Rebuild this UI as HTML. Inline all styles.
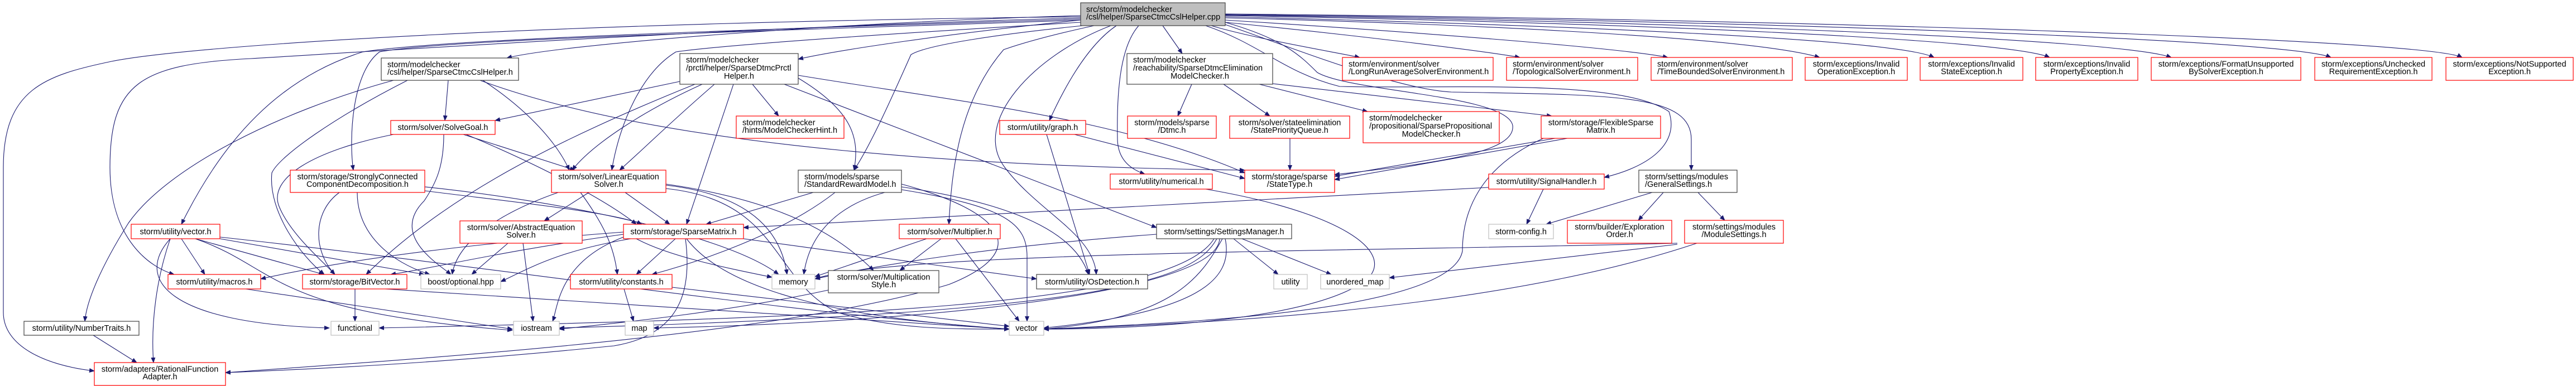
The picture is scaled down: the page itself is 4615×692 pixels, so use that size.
<!DOCTYPE html>
<html><head><meta charset="utf-8"><style>
html,body{margin:0;padding:0;background:#fff;}
svg{display:block}
text{font-family:"Liberation Sans",sans-serif;font-size:14.5px;fill:#000}
.e{fill:none;stroke:#191970;stroke-width:1.1;marker-end:url(#a)}
.r{fill:#fff;stroke:#ff0000;stroke-width:1.2}
.k{fill:#fff;stroke:#404040;stroke-width:1.2}
.g{fill:#fff;stroke:#bfbfbf;stroke-width:1.2}
.t{fill:#bfbfbf;stroke:#404040;stroke-width:1.2}
.m{text-anchor:middle}
</style></head><body>
<svg width="4615" height="692" viewBox="0 0 4615 692" xmlns="http://www.w3.org/2000/svg">
<defs><marker id="a" markerWidth="10" markerHeight="8" refX="9" refY="4" orient="auto" markerUnits="userSpaceOnUse"><path d="M0,0 L10,4 L0,8 z" fill="#191970"/></marker></defs>
<g>
<path class="e" d="M1936 28 C1500 40,1000 80,908 104"/>
<path class="e" d="M1936 36 C1700 60,1500 90,1430 106"/>
<path class="e" d="M2083 46 L2118 96"/>
<path class="e" d="M2170 46 C2250 70,2400 95,2436 103"/>
<path class="e" d="M2195 40 C2400 60,2650 90,2723 103"/>
<path class="e" d="M2195 36 C2500 55,2900 85,2988 103"/>
<path class="e" d="M2195 32 C2700 45,3150 70,3260 103"/>
<path class="e" d="M2195 30 C2800 45,3400 70,3465 103"/>
<path class="e" d="M2195 28 C2900 40,3600 70,3672 103"/>
<path class="e" d="M2195 27 C3000 38,3800 70,3890 103"/>
<path class="e" d="M2195 26 C3100 36,4100 70,4176 103"/>
<path class="e" d="M2195 25 C3200 34,4350 70,4411 103"/>
<path class="e" d="M1936 30 C1000 40,350 80,200 110 C80 135,6 160,6 300 L6 560 C6 620,80 655,169 665"/>
<path class="e" d="M1936 32 C1300 50,700 90,450 105 C250 115,197 150,197 300 C197 430,270 480,312 492"/>
<path class="e" d="M1936 34 C1300 55,800 70,650 93 C500 140,400 250,325 402"/>
<path class="e" d="M1936 36 C1400 55,800 70,680 93 C630 130,625 250,633 305"/>
<path class="e" d="M1936 40 C1600 60,1300 80,1211 93 C1150 130,1110 220,1096 305"/>
<path class="e" d="M1940 46 C1800 60,1660 80,1632 98 C1600 170,1560 260,1530 305"/>
<path class="e" d="M1960 46 C1850 70,1810 85,1798 89 C1720 180,1705 300,1700 402"/>
<path class="e" d="M2000 46 C1950 80,1910 150,1880 216"/>
<path class="e" d="M1990 46 C1850 100,1740 220,1800 300 C1860 380,1960 420,1964 492"/>
<path class="e" d="M2040 46 C2010 80,2000 150,2002 250 C2003 290,2030 305,2051 312"/>
<path class="e" d="M2195 40 C2300 70,2330 100,2360 130 C2420 165,2700 170,2710 225 C2715 270,2600 290,2391 313"/>
<path class="e" d="M2160 46 C2260 80,2300 130,2400 155 C2600 160,2900 140,2990 200 C3010 260,2950 300,2874 318"/>
<path class="e" d="M2195 44 C2300 80,2500 160,2600 165 C2900 170,3030 170,3030 250 L3030 305"/>
<path class="e" d="M803 144 L797 216"/>
<path class="e" d="M705 144 C500 200,300 300,230 400 C180 480,155 540,152 576"/>
<path class="e" d="M730 144 C600 210,500 280,487 310 C480 380,540 460,581 492"/>
<path class="e" d="M865 144 C950 200,1000 260,1020 305"/>
<path class="e" d="M860 144 C1200 270,1800 300,2230 305"/>
<path class="e" d="M705 241 C560 270,480 320,500 370 C520 420,580 470,600 492"/>
<path class="e" d="M795 241 C795 300,780 330,760 360 C700 420,780 470,808 492"/>
<path class="e" d="M830 241 L1030 305"/>
<path class="e" d="M835 241 C1000 310,1100 370,1140 402"/>
<path class="e" d="M608 345 C560 380,560 450,600 492"/>
<path class="e" d="M640 345 C640 420,700 470,770 492"/>
<path class="e" d="M761 335 C1000 360,1300 420,1395 492"/>
<path class="e" d="M761 342 C900 360,1100 380,1150 402"/>
<path class="e" d="M910 436 L845 492"/>
<path class="e" d="M937 436 L955 576"/>
<path class="e" d="M1055 345 L975 396"/>
<path class="e" d="M1120 345 L1200 402"/>
<path class="e" d="M1040 345 C1080 400,1100 440,1106 492"/>
<path class="e" d="M1193 332 C1350 350,1400 420,1410 492"/>
<path class="e" d="M1193 330 C1400 360,1500 420,1565 485"/>
<path class="e" d="M1193 338 C1400 360,1380 500,1500 560 C1600 590,1700 590,1808 590"/>
<path class="e" d="M1000 345 C900 380,820 430,810 492"/>
<path class="e" d="M1348 151 L1395 208"/>
<path class="e" d="M1280 151 C1200 220,1150 270,1110 305"/>
<path class="e" d="M1258 151 C1150 200,1060 260,1025 305"/>
<path class="e" d="M1314 151 L1230 402"/>
<path class="e" d="M1430 140 C1530 200,1540 250,1530 305"/>
<path class="e" d="M1218 146 L887 216"/>
<path class="e" d="M1245 151 C1000 250,800 350,656 492"/>
<path class="e" d="M1405 151 L2072 408"/>
<path class="e" d="M1430 135 C1700 180,2000 210,2230 310"/>
<path class="e" d="M1457 345 L1265 402"/>
<path class="e" d="M1496 345 C1400 420,1250 470,1168 492"/>
<path class="e" d="M1615 335 C1850 370,1930 430,1950 492"/>
<path class="e" d="M1615 340 C1800 370,1840 400,1840 460 L1840 576"/>
<path class="e" d="M1615 330 C1800 380,1850 450,1700 510 C1400 600,800 640,404 668"/>
<path class="e" d="M1615 338 C1500 360,1450 420,1440 492"/>
<path class="e" d="M1210 428 L1140 492"/>
<path class="e" d="M1117 425 C1000 470,1000 550,990 576"/>
<path class="e" d="M1130 428 C1000 450,950 480,897 505"/>
<path class="e" d="M1117 420 C900 450,780 480,700 492"/>
<path class="e" d="M1117 416 C800 440,600 470,467 500"/>
<path class="e" d="M1230 428 C1300 520,1500 570,1808 590"/>
<path class="e" d="M1332 428 L1857 500"/>
<path class="e" d="M1228 428 C1240 520,1220 600,1100 620 C800 650,600 660,404 668"/>
<path class="e" d="M1140 428 C1200 460,1300 480,1383 497"/>
<path class="e" d="M1660 428 L1460 496"/>
<path class="e" d="M1686 428 L1612 485"/>
<path class="e" d="M1712 428 L1826 576"/>
<path class="e" d="M1118 518 L1135 576"/>
<path class="e" d="M1204 515 L1808 585"/>
<path class="e" d="M1484 520 C1300 560,1100 580,1002 590"/>
<path class="e" d="M325 428 L367 492"/>
<path class="e" d="M350 428 L580 492"/>
<path class="e" d="M394 428 L760 492"/>
<path class="e" d="M305 428 C280 500,270 580,275 650"/>
<path class="e" d="M305 428 C240 500,300 580,590 588"/>
<path class="e" d="M350 428 C500 480,480 560,918 592"/>
<path class="e" d="M394 425 C900 480,1400 560,1808 590"/>
<path class="e" d="M440 518 L918 590"/>
<path class="e" d="M636 518 L636 576"/>
<path class="e" d="M690 518 L1808 590"/>
<path class="e" d="M167 601 L245 650"/>
<path class="e" d="M1875 241 L1952 492"/>
<path class="e" d="M1925 241 L2230 320"/>
<path class="e" d="M2160 339 C2400 380,2500 450,2450 500 C2350 580,2000 590,1870 590"/>
<path class="e" d="M2311 248 L2311 305"/>
<path class="e" d="M2135 151 L2110 208"/>
<path class="e" d="M2192 151 L2275 208"/>
<path class="e" d="M2256 151 L2450 200"/>
<path class="e" d="M2280 150 L2780 208"/>
<path class="e" d="M2786 248 L2391 316"/>
<path class="e" d="M2808 248 L2391 322"/>
<path class="e" d="M2765 248 C2650 300,2620 380,2620 450 C2600 560,2100 580,1870 590"/>
<path class="e" d="M2765 339 L2735 402"/>
<path class="e" d="M2667 336 L1332 408"/>
<path class="e" d="M2960 345 L2770 402"/>
<path class="e" d="M2980 345 L2935 395"/>
<path class="e" d="M3042 345 L3090 395"/>
<path class="e" d="M3040 436 C2700 550,2200 580,1870 590"/>
<path class="e" d="M3005 438 L2489 498"/>
<path class="e" d="M3005 436 C2500 450,1600 450,1460 500"/>
<path class="e" d="M2210 428 L2290 492"/>
<path class="e" d="M2225 428 L2385 492"/>
<path class="e" d="M2190 428 C2150 500,2100 570,1870 590"/>
<path class="e" d="M2195 428 C2210 500,2150 560,1870 588"/>
<path class="e" d="M2180 428 C2140 500,2000 560,1002 588"/>
<path class="e" d="M2072 420 C1800 440,1600 470,1460 500"/>
<path class="e" d="M2175 428 C2100 550,1500 570,679 588"/>
<path class="e" d="M2185 428 C2180 530,1600 580,1171 588"/>
</g>
<g>
<rect class="t" x="1936" y="5" width="259" height="41"/>
<text x="1946" y="21.5">src/storm/modelchecker</text><text x="1946" y="35">/csl/helper/SparseCtmcCslHelper.cpp</text>

<rect class="k" x="683" y="104" width="246" height="40"/>
<text x="694" y="120.5">storm/modelchecker</text><text x="694" y="134">/csl/helper/SparseCtmcCslHelper.h</text>

<rect class="r" x="700" y="216" width="187" height="25"/><text class="m" x="793.5" y="233">storm/solver/SolveGoal.h</text>

<rect class="r" x="520" y="305" width="241" height="40"/>
<text class="m" x="640.5" y="321.5">storm/storage/StronglyConnected</text><text class="m" x="640.5" y="335">ComponentDecomposition.h</text>

<rect class="r" x="824" y="396" width="219" height="40"/>
<text class="m" x="933.5" y="412.5">storm/solver/AbstractEquation</text><text class="m" x="933.5" y="426">Solver.h</text>

<rect class="r" x="235" y="402" width="159" height="26"/><text class="m" x="314.5" y="420">storm/utility/vector.h</text>
<rect class="r" x="301" y="492" width="166" height="26"/><text class="m" x="384" y="510">storm/utility/macros.h</text>
<rect class="r" x="542" y="492" width="187" height="26"/><text class="m" x="635.5" y="510">storm/storage/BitVector.h</text>
<rect class="g" x="754" y="492" width="143" height="26"/><text class="m" x="825.5" y="510">boost/optional.hpp</text>
<rect class="k" x="43" y="576" width="206" height="25"/><text class="m" x="146" y="593">storm/utility/NumberTraits.h</text>
<rect class="g" x="593" y="576" width="86" height="25"/><text class="m" x="636" y="593">functional</text>
<rect class="g" x="920" y="576" width="82" height="25"/><text class="m" x="961" y="593">iostream</text>

<rect class="r" x="169" y="650" width="235" height="41"/>
<text class="m" x="286.5" y="666.5">storm/adapters/RationalFunction</text><text class="m" x="286.5" y="680">Adapter.h</text>

<rect class="k" x="1218" y="96" width="212" height="55"/>
<text x="1229" y="112">storm/modelchecker</text><text x="1229" y="126.5">/prctl/helper/SparseDtmcPrctl</text><text class="m" x="1324" y="141">Helper.h</text>

<rect class="r" x="1319" y="208" width="193" height="40"/>
<text x="1330" y="224.5">storm/modelchecker</text><text x="1330" y="238">/hints/ModelCheckerHint.h</text>

<rect class="r" x="1791" y="216" width="154" height="25"/><text class="m" x="1868" y="233">storm/utility/graph.h</text>

<rect class="r" x="988" y="305" width="205" height="40"/>
<text class="m" x="1090.5" y="321.5">storm/solver/LinearEquation</text><text class="m" x="1090.5" y="335">Solver.h</text>

<rect class="k" x="1430" y="305" width="185" height="40"/>
<text x="1441" y="321.5">storm/models/sparse</text><text x="1441" y="335">/StandardRewardModel.h</text>

<rect class="r" x="1117" y="402" width="215" height="26"/><text class="m" x="1224.5" y="420">storm/storage/SparseMatrix.h</text>
<rect class="r" x="1611" y="402" width="181" height="26"/><text class="m" x="1701.5" y="420">storm/solver/Multiplier.h</text>
<rect class="r" x="1022" y="492" width="182" height="26"/><text class="m" x="1113" y="510">storm/utility/constants.h</text>
<rect class="g" x="1383" y="492" width="77" height="26"/><text class="m" x="1421.5" y="510">memory</text>

<rect class="k" x="1484" y="485" width="198" height="40"/>
<text class="m" x="1583" y="501.5">storm/solver/Multiplication</text><text class="m" x="1583" y="515">Style.h</text>

<rect class="k" x="1857" y="492" width="199" height="26"/><text class="m" x="1956.5" y="510">storm/utility/OsDetection.h</text>
<rect class="g" x="1120" y="576" width="51" height="25"/><text class="m" x="1145.5" y="593">map</text>
<rect class="g" x="1808" y="576" width="62" height="25"/><text class="m" x="1839" y="593">vector</text>

<rect class="k" x="2019" y="96" width="261" height="55"/>
<text x="2030" y="112">storm/modelchecker</text><text x="2030" y="126.5">/reachability/SparseDtmcElimination</text><text class="m" x="2149.5" y="141">ModelChecker.h</text>

<rect class="r" x="2405" y="103" width="270" height="41"/>
<text x="2416" y="119.5">storm/environment/solver</text><text x="2416" y="133">/LongRunAverageSolverEnvironment.h</text>
<rect class="r" x="2699" y="103" width="235" height="41"/>
<text x="2710" y="119.5">storm/environment/solver</text><text x="2710" y="133">/TopologicalSolverEnvironment.h</text>
<rect class="r" x="2958" y="103" width="253" height="41"/>
<text x="2969" y="119.5">storm/environment/solver</text><text x="2969" y="133">/TimeBoundedSolverEnvironment.h</text>

<rect class="r" x="3234" y="103" width="183" height="41"/>
<text class="m" x="3325.5" y="119.5">storm/exceptions/Invalid</text><text class="m" x="3325.5" y="133">OperationException.h</text>
<rect class="r" x="3440" y="103" width="184" height="41"/>
<text class="m" x="3532" y="119.5">storm/exceptions/Invalid</text><text class="m" x="3532" y="133">StateException.h</text>
<rect class="r" x="3647" y="103" width="183" height="41"/>
<text class="m" x="3738.5" y="119.5">storm/exceptions/Invalid</text><text class="m" x="3738.5" y="133">PropertyException.h</text>
<rect class="r" x="3854" y="103" width="268" height="41"/>
<text class="m" x="3988" y="119.5">storm/exceptions/FormatUnsupported</text><text class="m" x="3988" y="133">BySolverException.h</text>
<rect class="r" x="4147" y="103" width="210" height="41"/>
<text class="m" x="4252" y="119.5">storm/exceptions/Unchecked</text><text class="m" x="4252" y="133">RequirementException.h</text>
<rect class="r" x="4382" y="103" width="228" height="41"/>
<text class="m" x="4496" y="119.5">storm/exceptions/NotSupported</text><text class="m" x="4496" y="133">Exception.h</text>

<rect class="r" x="2020" y="208" width="159" height="40"/>
<text class="m" x="2099.5" y="224.5">storm/models/sparse</text><text class="m" x="2099.5" y="238">/Dtmc.h</text>
<rect class="r" x="2203" y="208" width="215" height="40"/>
<text class="m" x="2310.5" y="224.5">storm/solver/stateelimination</text><text class="m" x="2310.5" y="238">/StatePriorityQueue.h</text>
<rect class="r" x="2442" y="200" width="244" height="56"/>
<text x="2453" y="216">storm/modelchecker</text><text x="2453" y="230.5">/propositional/SparsePropositional</text><text class="m" x="2564" y="245">ModelChecker.h</text>
<rect class="r" x="2761" y="208" width="214" height="40"/>
<text class="m" x="2868" y="224.5">storm/storage/FlexibleSparse</text><text class="m" x="2868" y="238">Matrix.h</text>

<rect class="r" x="1989" y="312" width="183" height="27"/><text class="m" x="2080.5" y="330">storm/utility/numerical.h</text>
<rect class="r" x="2230" y="305" width="161" height="40"/>
<text class="m" x="2310.5" y="321.5">storm/storage/sparse</text><text class="m" x="2310.5" y="335">/StateType.h</text>
<rect class="r" x="2667" y="312" width="207" height="27"/><text class="m" x="2770.5" y="330">storm/utility/SignalHandler.h</text>
<rect class="k" x="2936" y="305" width="176" height="40"/>
<text x="2947" y="321.5">storm/settings/modules</text><text x="2947" y="335">/GeneralSettings.h</text>

<rect class="k" x="2072" y="402" width="242" height="26"/><text class="m" x="2193" y="420">storm/settings/SettingsManager.h</text>
<rect class="g" x="2667" y="402" width="116" height="26"/><text class="m" x="2725" y="420">storm-config.h</text>
<rect class="r" x="2808" y="395" width="187" height="41"/>
<text class="m" x="2901.5" y="411.5">storm/builder/Exploration</text><text class="m" x="2901.5" y="425">Order.h</text>
<rect class="r" x="3018" y="395" width="177" height="41"/>
<text class="m" x="3106.5" y="411.5">storm/settings/modules</text><text class="m" x="3106.5" y="425">/ModuleSettings.h</text>

<rect class="g" x="2282" y="492" width="60" height="26"/><text class="m" x="2312" y="510">utility</text>
<rect class="g" x="2366" y="492" width="123" height="26"/><text class="m" x="2427.5" y="510">unordered_map</text>
</g>
</svg>
</body></html>
